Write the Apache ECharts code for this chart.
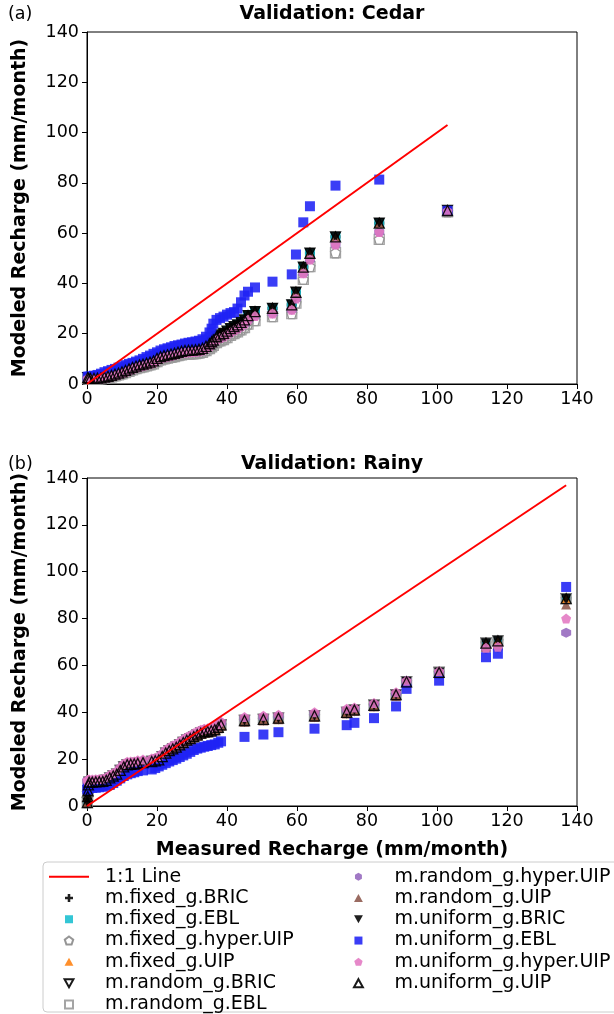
<!DOCTYPE html>
<html><head><meta charset="utf-8">
<script src="https://cdn.jsdelivr.net/npm/echarts@6/dist/echarts.min.js"></script>
<style>html,body{margin:0;padding:0;background:#fff}#c{width:614px;height:1014px}</style>
</head><body><div id="c"></div>
<script>
// ---------------- data ----------------
const seriesNames = ['m.fixed_g.BRIC','m.fixed_g.EBL','m.fixed_g.hyper.UIP','m.fixed_g.UIP','m.random_g.BRIC','m.random_g.EBL',
  'm.random_g.hyper.UIP','m.random_g.UIP','m.uniform_g.BRIC','m.uniform_g.EBL','m.uniform_g.hyper.UIP','m.uniform_g.UIP'];
const axisTicks = [0,20,40,60,80,100,120,140];

// Cedar (measured recharge, mm/month)
const cedarX = [0.2,0.5,1,2,3,4,5,6,7,8,9,10,11,12,13,14,15,16,17,18,19,20,21,22,23,24,25,26,27,28,29,30,31,32,33,34,35,35.6,36.1,37,38,39,40,41,42,43,44,45,46,48,53,58.5,59.7,61.8,63.7,71,83.5,103];
const cedarBlack = [2.5,2.3,2.2,2.2,2.3,2.4,2.7,3.0,3.4,3.9,4.3,4.8,5.4,6.0,6.6,7.1,7.6,7.9,8.3,8.7,9.2,10.2,10.9,11.3,11.6,11.9,12.2,12.6,13.0,13.3,13.4,13.5,13.6,13.8,14.2,15.0,16.0,16.8,17.5,18.8,19.5,20.1,21.0,22.0,22.8,23.5,24.5,25.5,27.2,28.8,30.1,31.5,36.5,46.5,52.0,58.5,64.0,69.0];
const cedarPink = [2.3,2.1,2.0,2.0,2.1,2.2,2.4,2.7,3.1,3.5,3.9,4.4,4.9,5.5,6.1,6.6,7.0,7.3,7.7,8.1,8.6,9.5,10.2,10.6,10.9,11.2,11.5,11.9,12.3,12.5,12.6,12.7,12.8,13.0,13.4,14.2,15.0,15.8,16.5,17.6,18.3,18.9,19.7,20.6,21.4,22.1,23.0,24.0,25.6,27.0,28.0,29.5,34.0,44.0,49.5,55.5,60.5,68.8];
const cedarGray = [2.1,1.9,1.8,1.8,1.9,2.0,2.2,2.5,2.8,3.2,3.6,4.0,4.5,5.0,5.6,6.1,6.5,6.8,7.2,7.6,8.0,8.9,9.6,10.0,10.3,10.6,10.9,11.3,11.6,11.8,11.9,12.0,12.1,12.3,12.6,13.3,14.1,14.8,15.4,16.5,17.2,17.7,18.5,19.3,20.0,20.7,21.5,22.4,23.8,25.2,26.8,28.0,32.2,41.6,46.7,52.2,57.5,68.5];
const cedarBlue = [2.9,2.9,3.0,3.3,3.6,4.1,4.7,5.1,5.6,6.0,6.5,7.0,7.5,8.0,8.4,8.9,9.4,10.0,10.7,11.3,12.0,12.6,13.3,13.8,14.2,14.6,15.1,15.4,15.7,16.1,16.4,16.6,16.9,17.2,17.8,18.8,20.5,22.0,24.0,25.5,26.2,26.8,27.6,28.2,28.6,30.0,32.5,35.2,36.7,38.4,40.7,43.6,51.5,64.3,70.7,78.9,81.3,68.9];

// Rainy
const rainyX = [0.1,0.2,0.3,0.4,0.6,1.5,2.5,3.5,4.5,5.5,6.5,7.5,8.5,9.5,10.5,11.5,12.5,13.5,14.5,16,18.5,19.5,20.5,21.5,22.5,23.5,24.5,25.5,26.5,27.5,28.5,29.5,30.5,31.5,32.5,33.5,34.5,35.5,36.5,37.5,38.3,45,50.4,54.7,65,74.2,76.4,82,88.3,91.3,100.6,114,117.4,136.9];
const rainyBlack = [1.5,4.0,6.5,9.0,10.2,10.2,10.3,10.4,10.5,11.0,12.0,12.8,13.6,15.2,16.7,17.6,17.8,17.9,18.2,18.5,19.0,19.3,19.7,21.1,22.6,23.6,24.4,25.1,26.1,27.1,28.1,28.8,29.6,30.4,31.1,31.6,31.8,32.1,32.6,33.6,34.6,36.5,37,37.5,38.5,40,41,43,47.5,53,57,69.5,70.5,88.5];
const rainyBrown = [1.3,3.8,6.2,8.8,9.8,9.8,9.9,10.0,10.1,10.6,11.6,12.4,13.2,14.8,16.3,17.2,17.4,17.5,17.8,18.1,18.6,18.9,19.3,20.7,22.2,23.2,24.0,24.7,25.7,26.7,27.7,28.4,29.2,30.0,30.7,31.2,31.4,31.7,32.2,33.2,34.2,36,36.5,37,38,39.5,40.5,42.5,47,52.5,56.5,68,69,86];
const rainyPink = [10.8,11.0,11.1,11.2,11.3,11.3,11.4,11.5,11.6,12.2,13.2,14.0,14.8,16.5,18.0,18.9,19.0,19.0,19.5,19.8,20.3,20.6,21.0,22.5,24.0,25.0,25.8,26.5,27.5,28.5,29.5,30.2,31.0,31.8,32.5,33.0,33.2,33.5,34.0,35.0,36.0,38,38.5,39,40,41.5,42,44,48.5,53.5,57.5,67.5,68,80];
const rainyPurple = [10.6,10.8,10.9,11.0,10.9,10.9,11.0,11.1,11.2,11.8,12.8,13.6,14.4,16.1,17.6,18.5,18.6,18.6,19.1,19.4,19.9,20.2,20.6,22.1,23.6,24.6,25.4,26.1,27.1,28.1,29.1,29.8,30.6,31.4,32.1,32.6,32.8,33.1,33.6,34.6,35.6,37.5,38,38.5,39.5,41,41.5,43.5,48,53.5,57,67,67.5,74];
const rainyBlue = [7.0,7.2,7.4,7.5,7.6,7.7,7.8,8.0,8.2,8.6,9.0,9.8,10.8,11.8,12.8,13.5,14.0,14.4,14.9,15.2,15.6,16.2,16.9,17.6,18.3,19.0,19.6,20.2,20.9,21.6,22.3,23.1,23.9,24.5,24.9,25.3,25.6,26.0,26.3,27.0,27.6,29.5,30.5,31.5,33,34.5,35.5,37.5,42.5,50,53.5,63.5,65,93.5];

const cedarGroups = [cedarBlack,cedarBlack,cedarGray,cedarBlack,cedarBlack,cedarGray,cedarPink,cedarBlack,cedarBlack,cedarBlue,cedarPink,cedarBlack];
const rainyGroups = [rainyBlack,rainyBlack,rainyBlack,rainyBlack,rainyBlack,rainyBlack,rainyPurple,rainyBrown,rainyBlack,rainyBlue,rainyPink,rainyBlack];
const cedarLine = [[0,0],[103,103]];
const rainyLine = [[0,0],[136.9,136.9]];

// ---------------- styles ----------------
const P = {
  sq: 'path://M0,0L10,0L10,10L0,10Z',
  up: 'path://M5,0L10,9L0,9Z',
  down: 'path://M0,0L10,0L5,9Z',
  pent: 'path://M5,0L9.755,3.455L7.939,9.045L2.061,9.045L0.245,3.455Z',
  hex: 'path://M5,0L9.33,2.5L9.33,7.5L5,10L0.67,7.5L0.67,2.5Z',
  plus: 'path://M3.4,0H6.6V3.4H10V6.6H6.6V10H3.4V6.6H0V3.4H3.4Z',
  line: 'path://M0,0H40V2H0Z'
};
const mk = [
  {s:P.plus, fill:'#000'},
  {s:P.sq, fill:'#17becf'},
  {s:P.pent, open:'#8a8a8a'},
  {s:P.up, fill:'#ff7f0e'},
  {s:P.down, open:'#000'},
  {s:P.sq, open:'#9a9a9a'},
  {s:P.hex, fill:'#9467bd'},
  {s:P.up, fill:'#8c564b'},
  {s:P.down, fill:'#000'},
  {s:P.sq, fill:'#1f22f5'},
  {s:P.pent, fill:'#e377c2'},
  {s:P.up, open:'#000'}
];
const FONT = 'DejaVu Sans';

function zip(xs, ys){ return xs.map((x,i)=>[x, ys[i]]); }

const series = [];
[[cedarX,cedarGroups,0],[rainyX,rainyGroups,1]].forEach(([xs,groups,gi])=>{
  seriesNames.forEach((name,i)=>{
    const m = mk[i];
    series.push({
      type:'scatter', name, xAxisIndex:gi, yAxisIndex:gi,
      symbol:m.s, symbolSize:10,
      itemStyle: m.open ? {color:'rgba(255,255,255,0)', borderColor:m.open, borderWidth:1.3, opacity:0.9}
                        : {color:m.fill, opacity:0.88},
      data: zip(xs, groups[i]), z:2, silent:true
    });
  });
  series.push({type:'line', name:'1:1 Line', xAxisIndex:gi, yAxisIndex:gi, data: gi===0?cedarLine:rainyLine,
    symbol:'none', showSymbol:false, lineStyle:{color:'#f00', width:2}, itemStyle:{color:'#f00'}, z:5, silent:true});
});

function xAx(gi, name){
  return {gridIndex:gi, type:'value', min:0, max:140, interval:20,
    axisLine:{show:true, lineStyle:{color:'#000', width:1}},
    axisTick:{show:true, inside:false, length:5, lineStyle:{color:'#000'}},
    axisLabel:{color:'#000', fontSize:17.5, fontFamily:FONT, margin:6},
    splitLine:{show:false},
    name: name || '', nameLocation:'middle', nameGap:35,
    nameTextStyle:{color:'#000', fontSize:19, fontWeight:'bold', fontFamily:FONT}};
}
function yAx(gi){
  return {gridIndex:gi, type:'value', min:0, max:140, interval:20,
    axisLine:{show:true, lineStyle:{color:'#000', width:1}},
    axisTick:{show:true, inside:false, length:5, lineStyle:{color:'#000'}},
    axisLabel:{color:'#000', fontSize:17.5, fontFamily:FONT, margin:8},
    splitLine:{show:false},
    name:'Modeled Recharge (mm/month)', nameLocation:'middle', nameGap:57, nameRotate:90,
    nameTextStyle:{color:'#000', fontSize:19, fontWeight:'bold', fontFamily:FONT}};
}

const legendText = {color:'#000', fontSize:19, fontFamily:FONT, lineHeight:21.3, padding:[0,0,0,11]};
const legendBase = {orient:'vertical', selectedMode:false, itemWidth:40, itemHeight:8, itemGap:0, padding:0,
  symbolKeepAspect:true, height:152, top:866};

const option = {
  animation:false,
  backgroundColor:'#fff',
  grid:[
    {left:87, right:37, top:32, height:352, show:true, borderColor:'#000', borderWidth:1, backgroundColor:'transparent'},
    {left:87, right:37, top:478, height:328, show:true, borderColor:'#000', borderWidth:1, backgroundColor:'transparent'}
  ],
  xAxis:[xAx(0), xAx(1,'Measured Recharge (mm/month)')],
  yAxis:[yAx(0), yAx(1)],
  legend:[
    Object.assign({}, legendBase, {left:49, textStyle:legendText,
      data:[{name:'1:1 Line', icon:P.line}].concat(seriesNames.slice(0,6))}),
    Object.assign({}, legendBase, {left:353, textStyle:legendText,
      data:seriesNames.slice(6)})
  ],
  graphic:[
    {type:'rect', shape:{x:43, y:862, width:590, height:150, r:4}, style:{fill:'#fff', stroke:'#cccccc', lineWidth:1}, z:-10, silent:true},
    {type:'text', style:{text:'Validation: Cedar', x:332, y:14, align:'center', verticalAlign:'middle', font:'bold 19px "DejaVu Sans"', fill:'#000'}},
    {type:'text', style:{text:'(a)', x:8, y:14, align:'left', verticalAlign:'middle', font:'17.5px "DejaVu Sans"', fill:'#000'}},
    {type:'text', style:{text:'Validation: Rainy', x:332, y:464, align:'center', verticalAlign:'middle', font:'bold 19px "DejaVu Sans"', fill:'#000'}},
    {type:'text', style:{text:'(b)', x:8, y:464, align:'left', verticalAlign:'middle', font:'17.5px "DejaVu Sans"', fill:'#000'}}
  ],
  series
};
const chart = echarts.init(document.getElementById('c'), null, {renderer:'canvas'});
chart.setOption(option);
</script></body></html>
